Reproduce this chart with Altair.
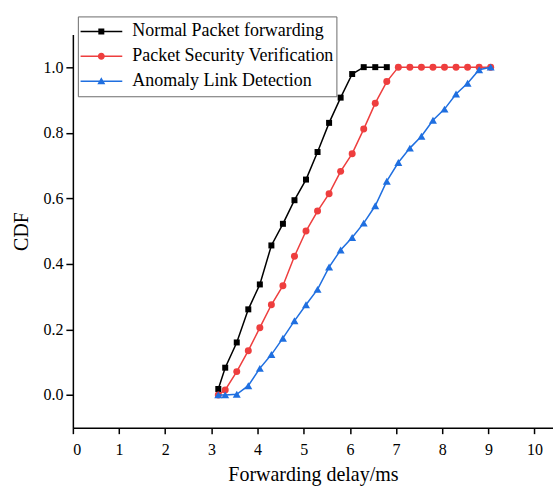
import altair as alt
import pandas as pd

FONT = "Liberation Serif"

series_names = ["Normal Packet forwarding", "Packet Security Verification", "Anomaly Link Detection"]
series_colors = ["#000000", "#EE3E3E", "#1F6FE0"]
marker_shapes = ["square", "circle", "triangle-up"]
marker_sizes = [36, 49, 64]

x_black = [3.15, 3.3, 3.55, 3.8, 4.05, 4.3, 4.55, 4.8, 5.05, 5.3, 5.55, 5.8, 6.05, 6.3, 6.55, 6.8]
y_black = [0.018, 0.083, 0.160, 0.261, 0.337, 0.456, 0.522, 0.594, 0.657, 0.741, 0.830, 0.907, 0.979, 1.0, 1.0, 1.0]

x_red = [3.15, 3.3, 3.55, 3.8, 4.05, 4.3, 4.55, 4.8, 5.05, 5.3, 5.55, 5.8, 6.05, 6.3, 6.55, 6.8,
         7.05, 7.3, 7.55, 7.8, 8.05, 8.3, 8.55, 8.8, 9.05]
y_red = [0.0, 0.015, 0.071, 0.135, 0.205, 0.275, 0.333, 0.423, 0.500, 0.561, 0.614, 0.682, 0.736, 0.811,
         0.890, 0.956, 1.0, 1.0, 1.0, 1.0, 1.0, 1.0, 1.0, 1.0, 1.0]

x_blue = [3.15, 3.3, 3.55, 3.8, 4.05, 4.3, 4.55, 4.8, 5.05, 5.3, 5.55, 5.8, 6.05, 6.3, 6.55, 6.8,
          7.05, 7.3, 7.55, 7.8, 8.05, 8.3, 8.55, 8.8, 9.05]
y_blue = [0.0, 0.0, 0.002, 0.028, 0.081, 0.123, 0.173, 0.226, 0.275, 0.322, 0.390, 0.442, 0.480, 0.524,
          0.577, 0.652, 0.709, 0.753, 0.789, 0.838, 0.872, 0.918, 0.951, 0.992, 1.0]

x_ticks = [0, 1, 2, 3, 4, 5, 6, 7, 8, 9, 10]
y_ticks = [0.0, 0.2, 0.4, 0.6, 0.8, 1.0]

# legend symbols: a short line with the marker in its middle (unit square coordinates)
legend_paths = [
    "M-1,-0.036H1V0.036H-1Z M-0.143,-0.143H0.143V0.143H-0.143Z",
    "M-1,-0.036H1V0.036H-1Z M-0.167,0A0.167,0.167,0,1,1,0.167,0A0.167,0.167,0,1,1,-0.167,0Z",
    "M-1,-0.036H1V0.036H-1Z M0,-0.19L0.19,0.14L-0.19,0.14Z",
]

x_enc = alt.X("x:Q", scale=alt.Scale(domain=[0, 10.4], nice=False, zero=False),
              axis=alt.Axis(values=x_ticks, format="d", title="Forwarding delay/ms",
                            tickSize=6, labelPadding=8, titlePadding=7))
y_enc = alt.Y("y:Q", scale=alt.Scale(domain=[-0.1, 1.1], nice=False, zero=False),
              axis=alt.Axis(values=y_ticks, format=".1f", title="CDF",
                            tickSize=7, labelPadding=3, titlePadding=11))

all_x = [x_black, x_red, x_blue]
all_y = [y_black, y_red, y_blue]

layers = []
for xs, ys, col, shp, sz in zip(all_x, all_y, series_colors, marker_shapes, marker_sizes):
    df = pd.DataFrame({"x": xs, "y": ys})
    base = alt.Chart(df).encode(x=x_enc, y=y_enc)
    layers.append(base.mark_line(color=col, strokeWidth=1.5))
    layers.append(base.mark_point(shape=shp, size=sz, filled=True, color=col, opacity=1))

leg = alt.Legend(
    orient="none", legendX=5, legendY=-18, title=None,
    symbolSize=1764, clipHeight=25, rowPadding=-0.5, padding=2.5,
    symbolStrokeWidth=0, symbolOpacity=1,
    labelFont=FONT, labelFontSize=18, labelColor="black", labelOffset=10, labelLimit=400,
    strokeColor="#6b6b6b", fillColor="white",
)
leg_df = pd.DataFrame({"series": series_names})
legend_layer = alt.Chart(leg_df).mark_point(filled=True, opacity=1).encode(
    color=alt.Color("series:N", scale=alt.Scale(domain=series_names, range=series_colors), legend=leg),
    shape=alt.Shape("series:N", scale=alt.Scale(domain=series_names, range=legend_paths), legend=leg),
).transform_filter("false")

chart = alt.layer(*layers, legend_layer).properties(
    width=481, height=394,
    padding={"left": 73, "top": 34, "right": 0, "bottom": 58},
    autosize=alt.AutoSizeParams(type="none"),
).configure_view(stroke=None).configure_axis(
    grid=False,
    labelFont=FONT, titleFont=FONT, labelFontSize=16, titleFontSize=20,
    titleFontWeight="normal", labelColor="black", titleColor="black",
    domainColor="black", tickColor="black", domainWidth=1.5, tickWidth=1.5,
)

chart.save("out.html", embed_options={"renderer": "svg", "actions": False})
